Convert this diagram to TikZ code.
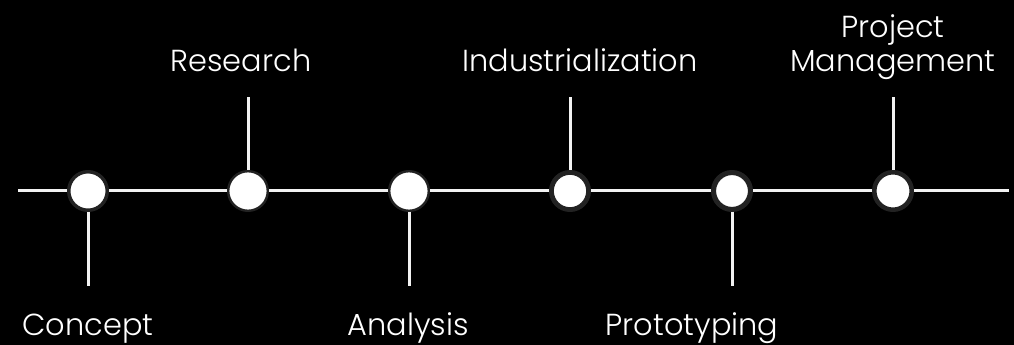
\documentclass[tikz,border=0pt]{standalone}
\usepackage{fontspec}
\setmainfont{Poppins}[UprightFont=* Light]
\definecolor{ringgray}{HTML}{222222}
\definecolor{linewhite}{HTML}{F2F2F2}
\tikzset{
  line/.style={draw=linewhite, line width=2.25pt},
  dot/.style={circle, fill=white, draw=ringgray, line width=#1,
    minimum size=31.5pt-#1, inner sep=0pt},
  lbl/.style={text=white, font=\fontsize{22.8}{27}\selectfont, anchor=base}
}
\begin{document}
\begin{tikzpicture}[x=0.75pt, y=-0.75pt]
    % background
    \fill[black] (0,0) rectangle (1014,345);
    \useasboundingbox (0,0) rectangle (1014,345);

    % height of the timeline and of the stub ends
    \def\liney{191}
    \def\uptop{97}
    \def\downend{286}

    % milestones
    \node[dot=2.6pt] (concept) at (88,\liney) {};
    \node[dot=1.8pt] (research) at (248,\liney) {};
    \node[dot=1.8pt] (analysis) at (409,\liney) {};
    \node[dot=3.6pt] (industrial) at (570,\liney) {};
    \node[dot=3.8pt] (proto) at (732,\liney) {};
    \node[dot=3.4pt] (project) at (893,\liney) {};

    % ends of the timeline
    \coordinate (start) at (18,\liney);
    \coordinate (finish) at (1009,\liney);

    \draw[line] (start) -- (concept);
    \draw[line] (concept) -- (research);
    \draw[line] (research) -- (analysis);
    \draw[line] (analysis) -- (industrial);
    \draw[line] (industrial) -- (proto);
    \draw[line] (proto) -- (project);
    \draw[line] (project) -- (finish);

    % stubs
    \coordinate (conceptend) at (88,\downend);
    \coordinate (researchend) at (248,\uptop);
    \coordinate (analysisend) at (409,\downend);
    \coordinate (industrialend) at (570,\uptop);
    \coordinate (protoend) at (732,\downend);
    \coordinate (projectend) at (893,\uptop);

    \draw[line] (concept) -- (conceptend);
    \draw[line] (research) -- (researchend);
    \draw[line] (analysis) -- (analysisend);
    \draw[line] (industrial) -- (industrialend);
    \draw[line] (proto) -- (protoend);
    \draw[line] (project) -- (projectend);

    % labels
    \node[lbl] (conceptlbl) at (88,335) {Concept};
    \node[lbl] (researchlbl) at (241,72) {Research};
    \node[lbl] (analysislbl) at (408,335) {Analysis};
    \node[lbl] (industriallbl) at (580,72) {Industrialization};
    \node[lbl] (protolbl) at (692,335) {Prototyping};
    \node[lbl] (projectlbl1) at (893,38) {Project};
    \node[lbl] (projectlbl2) at (893,72) {Management};
\end{tikzpicture}
\end{document}
